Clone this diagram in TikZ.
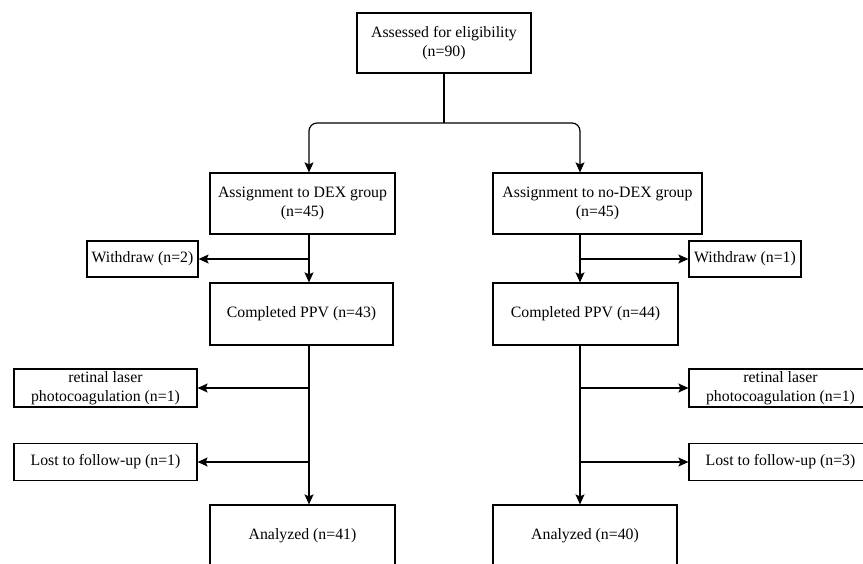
\documentclass[tikz,border=0pt]{standalone}
\usepackage{fontspec}
\setmainfont{Liberation Serif}
\usetikzlibrary{arrows.meta, positioning, calc}

\tikzset{
    box/.style={draw, line width=1.2pt, align=center, inner sep=2pt},
    arr/.style={line width=1.2pt, -{Stealth[length=10pt, width=9pt, inset=2pt]}}
}

\begin{document}
\begin{tikzpicture}[x=1pt, y=-1pt, font=\fontsize{15.8}{19}\selectfont]
    \useasboundingbox (0,0) rectangle (863,563);
    % boxes
    \node[box, minimum width=174pt, minimum height=60pt] (elig) at (444,43) {Assessed for eligibility\\(n=90)};
    \node[box, minimum width=185pt, minimum height=61pt] (dex) at (302.5,203.5) {Assignment to DEX group\\(n=45)};
    \node[box, minimum width=209pt, minimum height=61pt] (nodex) at (597.5,203.5) {Assignment to no-DEX group\\(n=45)};
    \node[box, minimum width=111pt, minimum height=36pt] (wdl) at (142.5,259) {Withdraw (n=2)};
    \node[box, minimum width=112pt, minimum height=36pt] (wdr) at (745,259) {Withdraw (n=1)};
    \node[box, minimum width=183pt, minimum height=62pt] (ppvl) at (301.5,314) {Completed PPV (n=43)};
    \node[box, minimum width=185pt, minimum height=62pt] (ppvr) at (585.5,314) {Completed PPV (n=44)};
    \node[box, minimum width=183pt, minimum height=38pt] (rll) at (105.5,388) {retinal laser\\photocoagulation (n=1)};
    \node[box, minimum width=183pt, minimum height=37pt] (lostl) at (105.5,462) {Lost to follow-up (n=1)};
    \node[box, minimum width=183pt, minimum height=38pt] (rlr) at (780.5,388) {retinal laser\\photocoagulation (n=1)};
    \node[box, minimum width=183pt, minimum height=37pt] (lostr) at (780.5,462) {Lost to follow-up (n=3)};
    \node[box, minimum width=185pt, minimum height=62pt] (anal) at (302.5,536) {Analyzed (n=41)};
    \node[box, minimum width=184pt, minimum height=62pt] (anar) at (585,536) {Analyzed (n=40)};
    % spines
    \coordinate (sl) at (309,123);
    \coordinate (sr) at (580,123);
    % split
    \draw[line width=1.2pt] (elig.south) -- (elig.south |- sl);
    \draw[arr, rounded corners=8pt] (elig.south |- sl) -- (sl) -- (sl |- dex.north);
    \draw[arr, rounded corners=8pt] (elig.south |- sr) -- (sr) -- (sr |- nodex.north);
    % left arm
    \draw[arr] (sl |- dex.south) -- (sl |- ppvl.north);
    \draw[arr] (sl |- wdl) -- (wdl.east);
    \draw[arr] (sl |- ppvl.south) -- (sl |- anal.north);
    \draw[arr] (sl |- rll) -- (rll.east);
    \draw[arr] (sl |- lostl) -- (lostl.east);
    % right arm
    \draw[arr] (sr |- nodex.south) -- (sr |- ppvr.north);
    \draw[arr] (sr |- wdr) -- (wdr.west);
    \draw[arr] (sr |- ppvr.south) -- (sr |- anar.north);
    \draw[arr] (sr |- rlr) -- (rlr.west);
    \draw[arr] (sr |- lostr) -- (lostr.west);
\end{tikzpicture}
\end{document}
